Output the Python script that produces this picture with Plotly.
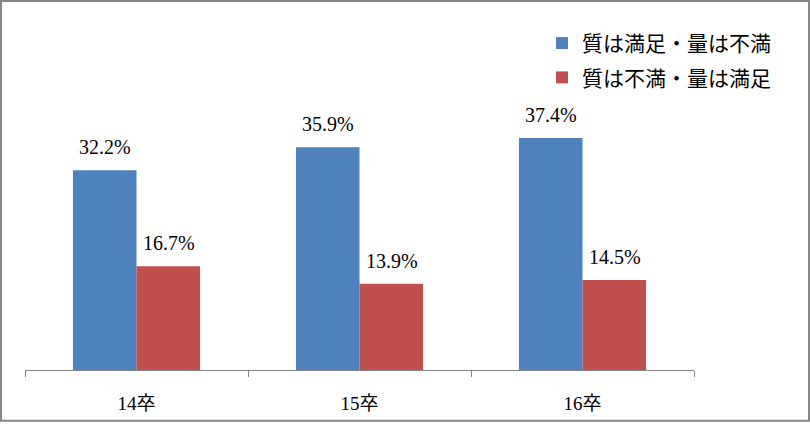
import plotly.graph_objects as go

categories = ["14卒", "15卒", "16卒"]
series_names = ["質は満足・量は不満", "質は不満・量は満足"]
quality_ok = [32.2, 35.9, 37.4]
quantity_ok = [16.7, 13.9, 14.5]
colors = ["#4F81BD", "#C0504D"]

W, H = 810, 424
L, R, T, B = 25, 116, 10, 52
pw, ph = W - L - R, H - T - B
bar_half = 32  # half bar width in px, for label offset

serif = "'Liberation Serif', 'Noto Sans CJK JP', serif"

fig = go.Figure()
annotations = []
for i, (name, vals) in enumerate(zip(series_names, [quality_ok, quantity_ok])):
    fig.add_trace(go.Bar(
        x=categories, y=vals, name=name, marker_color=colors[i],
        marker_line_width=0, legendgroup=f"g{i}", hoverinfo="skip",
    ))
    for c, v in zip(categories, vals):
        annotations.append(dict(
            x=c, y=v, xref="x", yref="y", text=f"{v:.1f}%", showarrow=False,
            xanchor="center", yanchor="bottom", xshift=(-bar_half if i == 0 else bar_half),
            yshift=10, font=dict(family=serif, size=20, color="black"),
        ))

fig.update_layout(
    width=W, height=H,
    margin=dict(l=L, r=R, t=T, b=B),
    paper_bgcolor="white", plot_bgcolor="white",
    barmode="group", bargap=0.43, bargroupgap=0,
    showlegend=True,
    legend=dict(x=(542 - L) / pw, y=(H - B - 23) / ph, xanchor="left", yanchor="top",
                font=dict(family="'Noto Sans CJK JP', sans-serif", size=21, color="black"),
                traceorder="grouped", tracegroupgap=4, bgcolor="rgba(0,0,0,0)"),
    xaxis=dict(showline=True, linecolor="#868686", linewidth=1, ticks="outside",
               tickson="boundaries", ticklen=6, tickcolor="#868686",
               ticklabelstandoff=16,
               tickfont=dict(family=serif, size=19, color="black"), showgrid=False),
    yaxis=dict(range=[0, ph / 6.24], visible=False, showgrid=False),
    annotations=annotations,
    shapes=[dict(type="rect", xref="paper", yref="paper",
                 x0=-(L - 1) / pw, x1=(W - L - 1) / pw,
                 y0=-(B - 1) / ph, y1=(H - B - 1) / ph,
                 line=dict(color="#868686", width=2))],
)

fig.write_html("out.html", config={"displayModeBar": False},
               post_script="document.body.style.margin='0';document.body.style.overflow='hidden';")
